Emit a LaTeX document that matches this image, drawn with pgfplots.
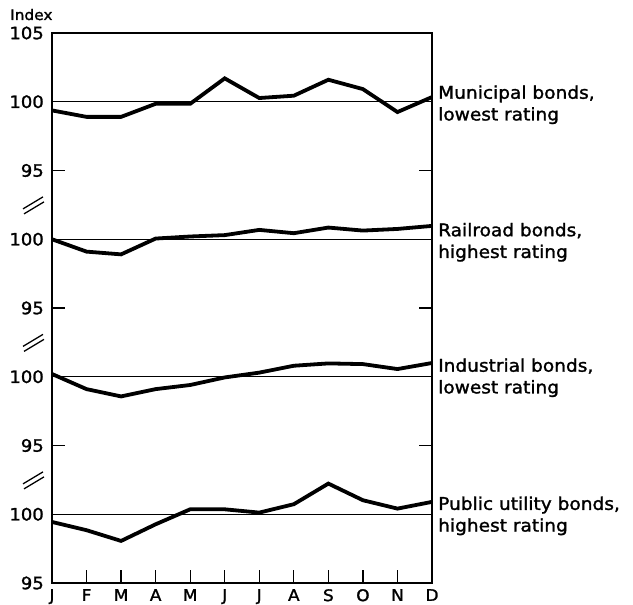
\documentclass[border=0pt]{standalone}
\usepackage{fontspec}
\setmainfont{DejaVu Sans}[FakeBold=1.5, FakeStretch=1.06]
\usepackage{pgfplots}
\usepackage{pgfplotstable}
\pgfplotsset{compat=1.18}

% index values, base 100
\pgfplotstableread{
m  muni   rail   indus  util
0  99.37  100.0  100.2  99.44
1  98.9   99.1   99.1   98.84
2  98.9   98.9   98.57  98.06
3  99.85  100.05 99.1   99.27
4  99.85  100.2  99.4   100.36
5  101.7  100.3  99.95  100.36
6  100.27 100.68 100.3  100.12
7  100.44 100.44 100.8  100.73
8  101.6  100.85 100.97 102.23
9  100.92 100.63 100.92 101.02
10 99.25  100.75 100.56 100.41
11 100.34 100.97 101.0  100.9
}\bonds

\begin{document}
\begin{tikzpicture}
\begin{axis}[
    scale only axis,
    width=380pt, height=550pt,
    xmin=0, xmax=11, ymin=0, ymax=40,
    axis line style={line width=1.4pt},
    tick align=inside,
    major tick length=13pt,
    every tick/.style={black, line width=1.3pt},
    xtick pos=left,
    ytick pos=both,
    xtick={0,...,11},
    xticklabels={J,F,M,A,M,J,J,A,S,O,N,D},
    x tick label style={font=\fontsize{16}{16}\selectfont, inner sep=0pt, yshift=-6pt},
    ytick={0,5,...,40},
    yticklabels={95,100,95,100,95,100,95,100,105},
    y tick label style={font=\fontsize{17}{17}\selectfont, inner sep=0pt, xshift=-8pt},
    /pgf/number format/assume math mode=true,
    clip=false,
]
% base 100 reference lines
\addplot[black, line width=1.3pt] coordinates {(0,5) (11,5)};
\addplot[black, line width=1.3pt] coordinates {(0,15) (11,15)};
\addplot[black, line width=1.3pt] coordinates {(0,25) (11,25)};
\addplot[black, line width=1.3pt] coordinates {(0,35) (11,35)};

\addplot[black, line width=3.8pt] table[x=m, y expr=\thisrow{muni}-65] {\bonds};
\addplot[black, line width=3.8pt] table[x=m, y expr=\thisrow{rail}-75] {\bonds};
\addplot[black, line width=3.8pt] table[x=m, y expr=\thisrow{indus}-85] {\bonds};
\addplot[black, line width=3.8pt] table[x=m, y expr=\thisrow{util}-95] {\bonds};

% scale breaks
\pgfplotsinvokeforeach{7.5,17.5,27.5}{
  \draw[line width=1.3pt] ([xshift=-29pt,yshift=-4pt]axis cs:0,#1) -- ++(20pt,12pt);
  \draw[line width=1.3pt] ([xshift=-28pt,yshift=-9pt]axis cs:0,#1) -- ++(20pt,12pt);
}

\node[anchor=base west, inner sep=0pt, font=\fontsize{14.5}{14.5}\selectfont]
  at ([xshift=-42pt,yshift=13pt]rel axis cs:0,1) {Index};

\tikzset{lbl/.style={anchor=north west, align=left, inner sep=0pt, font=\fontsize{17.5}{21.7}\selectfont}}
\node[lbl] at ([xshift=6pt]axis cs:11,36.2) {Municipal bonds,\\lowest rating};
\node[lbl] at ([xshift=6pt]axis cs:11,26.2) {Railroad bonds,\\highest rating};
\node[lbl] at ([xshift=6pt]axis cs:11,16.35) {Industrial bonds,\\lowest rating};
\node[lbl] at ([xshift=6pt]axis cs:11,6.3) {Public utility bonds,\\highest rating};

% page frame matching the reference proportions
\path ([xshift=-52pt,yshift=-20pt]rel axis cs:0,0) rectangle ([xshift=201pt,yshift=33pt]rel axis cs:1,1);
\end{axis}
\end{tikzpicture}
\end{document}
